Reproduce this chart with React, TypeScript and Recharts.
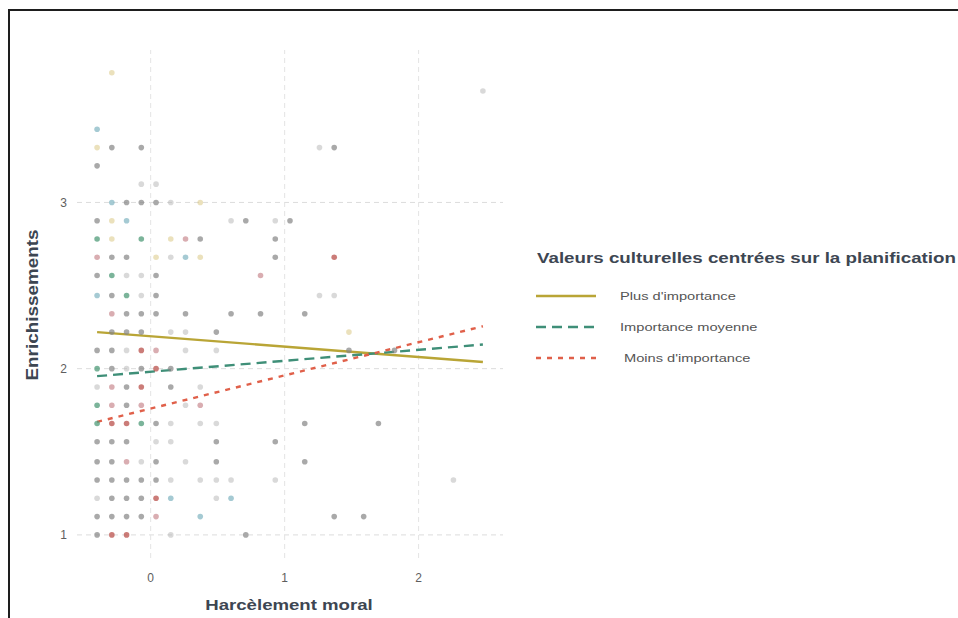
import React from "react";
import {
  ComposedChart,
  Line,
  ReferenceLine,
  Scatter,
  XAxis,
  YAxis,
} from "recharts";

// Nuage de points : Harcèlement moral (x) × Enrichissements (y), teintes
type Pt = { x: number; y: number };

const gris: Pt[] = [
  { x: -0.29, y: 3.33 }, { x: -0.07, y: 3.33 }, { x: 1.37, y: 3.33 },
  { x: -0.4, y: 3.22 },
  { x: -0.18, y: 3 }, { x: -0.07, y: 3 }, { x: 0.04, y: 3 },
  { x: -0.4, y: 2.89 }, { x: 0.71, y: 2.89 }, { x: 1.04, y: 2.89 },
  { x: 0.37, y: 2.78 }, { x: 0.93, y: 2.78 },
  { x: -0.29, y: 2.67 }, { x: -0.18, y: 2.67 }, { x: 0.93, y: 2.67 },
  { x: -0.4, y: 2.56 }, { x: 0.04, y: 2.56 },
  { x: -0.29, y: 2.44 }, { x: 0.04, y: 2.44 },
  { x: -0.18, y: 2.33 }, { x: -0.07, y: 2.33 }, { x: 0.04, y: 2.33 }, { x: 0.26, y: 2.33 },
  { x: 0.6, y: 2.33 }, { x: 0.82, y: 2.33 }, { x: 1.15, y: 2.33 },
  { x: -0.29, y: 2.22 }, { x: -0.18, y: 2.22 }, { x: -0.07, y: 2.22 }, { x: 0.49, y: 2.22 },
  { x: -0.4, y: 2.11 }, { x: -0.29, y: 2.11 }, { x: 1.48, y: 2.11 }, { x: 1.82, y: 2.11 },
  { x: -0.29, y: 2 }, { x: -0.07, y: 2 }, { x: 0.15, y: 2 },
  { x: -0.18, y: 1.89 }, { x: 0.15, y: 1.89 },
  { x: -0.18, y: 1.78 },
  { x: 0.04, y: 1.67 }, { x: 1.15, y: 1.67 }, { x: 1.7, y: 1.67 },
  { x: -0.4, y: 1.56 }, { x: -0.29, y: 1.56 }, { x: -0.18, y: 1.56 }, { x: 0.49, y: 1.56 }, { x: 0.93, y: 1.56 },
  { x: -0.4, y: 1.44 }, { x: -0.29, y: 1.44 }, { x: 0.04, y: 1.44 }, { x: 0.49, y: 1.44 }, { x: 1.15, y: 1.44 },
  { x: -0.4, y: 1.33 }, { x: -0.29, y: 1.33 }, { x: -0.18, y: 1.33 }, { x: -0.07, y: 1.33 }, { x: 0.04, y: 1.33 },
  { x: -0.29, y: 1.22 }, { x: -0.18, y: 1.22 }, { x: -0.07, y: 1.22 },
  { x: -0.4, y: 1.11 }, { x: -0.29, y: 1.11 }, { x: -0.18, y: 1.11 }, { x: -0.07, y: 1.11 },
  { x: 1.37, y: 1.11 }, { x: 1.59, y: 1.11 },
  { x: -0.4, y: 1 }, { x: 0.71, y: 1 },
];

const pale: Pt[] = [
  { x: 2.48, y: 3.67 }, { x: 1.26, y: 3.33 },
  { x: -0.07, y: 3.11 }, { x: 0.04, y: 3.11 }, { x: 0.15, y: 3 },
  { x: 0.6, y: 2.89 }, { x: 0.93, y: 2.89 },
  { x: 0.15, y: 2.67 },
  { x: -0.18, y: 2.56 }, { x: -0.07, y: 2.56 },
  { x: -0.07, y: 2.44 }, { x: 1.26, y: 2.44 }, { x: 1.37, y: 2.44 },
  { x: 0.15, y: 2.22 }, { x: 0.26, y: 2.22 },
  { x: -0.18, y: 2.11 }, { x: 0.26, y: 2.11 }, { x: 0.49, y: 2.11 },
  { x: -0.18, y: 2 },
  { x: -0.4, y: 1.89 }, { x: 0.37, y: 1.89 },
  { x: 0.26, y: 1.78 },
  { x: 0.15, y: 1.67 }, { x: 0.37, y: 1.67 }, { x: 0.49, y: 1.67 },
  { x: 0.04, y: 1.56 }, { x: 0.15, y: 1.56 },
  { x: -0.07, y: 1.44 }, { x: 0.26, y: 1.44 },
  { x: 0.15, y: 1.33 }, { x: 0.37, y: 1.33 }, { x: 0.49, y: 1.33 }, { x: 0.6, y: 1.33 },
  { x: 0.93, y: 1.33 }, { x: 2.26, y: 1.33 },
  { x: -0.4, y: 1.22 }, { x: 0.49, y: 1.22 },
  { x: 0.15, y: 1 },
];

const jaune: Pt[] = [
  { x: -0.29, y: 3.78 }, { x: -0.4, y: 3.33 },
  { x: 0.37, y: 3 }, { x: -0.29, y: 2.89 },
  { x: -0.29, y: 2.78 }, { x: 0.15, y: 2.78 },
  { x: 0.04, y: 2.67 }, { x: 0.37, y: 2.67 },
  { x: 1.48, y: 2.22 },
];

const sarcelle: Pt[] = [
  { x: -0.4, y: 3.44 }, { x: -0.29, y: 3 }, { x: -0.18, y: 2.89 },
  { x: 0.26, y: 2.67 }, { x: -0.4, y: 2.44 },
  { x: 0.15, y: 1.22 }, { x: 0.6, y: 1.22 }, { x: 0.37, y: 1.11 },
];

const vert: Pt[] = [
  { x: -0.4, y: 2.78 }, { x: -0.07, y: 2.78 }, { x: -0.29, y: 2.56 }, { x: -0.18, y: 2.44 },
  { x: -0.4, y: 2 }, { x: -0.4, y: 1.78 }, { x: -0.4, y: 1.67 }, { x: -0.07, y: 1.67 },
];

const rose: Pt[] = [
  { x: 0.26, y: 2.78 }, { x: -0.4, y: 2.67 }, { x: 0.82, y: 2.56 }, { x: -0.29, y: 2.33 },
  { x: 0.04, y: 2.11 }, { x: -0.29, y: 1.89 }, { x: -0.29, y: 1.78 }, { x: -0.07, y: 1.78 },
  { x: 0.37, y: 1.78 }, { x: -0.18, y: 1.44 }, { x: 0.04, y: 1.11 },
];

const rouge: Pt[] = [
  { x: 1.37, y: 2.67 }, { x: -0.07, y: 2.11 }, { x: 0.04, y: 2 }, { x: -0.07, y: 1.89 },
  { x: -0.29, y: 1.67 }, { x: -0.18, y: 1.67 }, { x: 0.04, y: 1.22 },
  { x: -0.29, y: 1 }, { x: -0.18, y: 1 },
];

// Droites de régression par modalité
const plusImportance: Pt[] = [
  { x: -0.4, y: 2.22 },
  { x: 2.48, y: 2.04 },
];
const importanceMoyenne: Pt[] = [
  { x: -0.4, y: 1.955 },
  { x: 2.48, y: 2.145 },
];
const moinsImportance: Pt[] = [
  { x: -0.4, y: 1.68 },
  { x: 2.48, y: 2.255 },
];

const X_TICKS = [0, 1, 2];
const Y_TICKS = [1, 2, 3];

const FONT = "'Liberation Sans', Arial, sans-serif";
const TITLE_COLOR = "#3d4652";

const pointShape = (fill: string, opacity: number) => (props: any) => (
  <circle cx={props.cx} cy={props.cy} r={2.8} fill={fill} fillOpacity={opacity} />
);

const LEGEND = [
  { label: "Plus d'importance", color: "#b9a536", dash: undefined, pad: 0 },
  { label: "Importance moyenne", color: "#3f8f78", dash: "10 6", pad: 0 },
  { label: "Moins d'importance", color: "#e0604a", dash: "5 6", pad: 4 },
];

export default function App() {
  return (
    <div
      style={{
        position: "absolute",
        left: 0,
        top: 0,
        width: 958,
        height: 618,
        background: "#fff",
        overflow: "hidden",
        fontFamily: FONT,
      }}
    >
      <div
        style={{
          position: "absolute",
          left: 8,
          top: 9,
          width: 980,
          height: 640,
          borderTop: "2px solid #1e1e1e",
          borderLeft: "2px solid #1e1e1e",
        }}
      />
      <div style={{ position: "absolute", left: 0, top: 0 }}>
        <ComposedChart
          width={958}
          height={618}
          margin={{ top: 50, right: 455, bottom: 30, left: 37 }}
        >
          <XAxis
            type="number"
            dataKey="x"
            domain={[-0.55, 2.63]}
            ticks={X_TICKS}
            height={30}
            axisLine={false}
            tickLine={false}
            tickSize={0}
            tickMargin={15}
            tick={{ fontSize: 12, fill: "#5e5e5e", fontFamily: FONT }}
            allowDataOverflow
          />
          <YAxis
            type="number"
            dataKey="y"
            domain={[0.861, 3.917]}
            ticks={Y_TICKS}
            width={40}
            axisLine={false}
            tickLine={false}
            tickSize={0}
            tickMargin={10}
            tick={{ fontSize: 12, fill: "#5e5e5e", fontFamily: FONT }}
            allowDataOverflow
          />
          {Y_TICKS.map((t) => (
            <ReferenceLine key={`h${t}`} y={t} stroke="#dcdcdc" strokeDasharray="5 4" />
          ))}
          {X_TICKS.map((t) => (
            <ReferenceLine key={`v${t}`} x={t} stroke="#e4e4e4" strokeDasharray="5 4" />
          ))}
          <Scatter data={pale} shape={pointShape("#b4b4b4", 0.5)} isAnimationActive={false} />
          <Scatter data={jaune} shape={pointShape("#d8c47a", 0.5)} isAnimationActive={false} />
          <Scatter data={sarcelle} shape={pointShape("#7fb3c0", 0.7)} isAnimationActive={false} />
          <Scatter data={gris} shape={pointShape("#858585", 0.7)} isAnimationActive={false} />
          <Scatter data={vert} shape={pointShape("#4f9b78", 0.75)} isAnimationActive={false} />
          <Scatter data={rose} shape={pointShape("#c98a90", 0.7)} isAnimationActive={false} />
          <Scatter data={rouge} shape={pointShape("#b9504b", 0.75)} isAnimationActive={false} />
          <Line
            data={plusImportance}
            dataKey="y"
            type="linear"
            stroke="#b9a536"
            strokeWidth={2.4}
            dot={false}
            activeDot={false}
            isAnimationActive={false}
          />
          <Line
            data={importanceMoyenne}
            dataKey="y"
            type="linear"
            stroke="#3f8f78"
            strokeWidth={2.4}
            strokeDasharray="10 6"
            dot={false}
            activeDot={false}
            isAnimationActive={false}
          />
          <Line
            data={moinsImportance}
            dataKey="y"
            type="linear"
            stroke="#e0604a"
            strokeWidth={2.4}
            strokeDasharray="5 6"
            dot={false}
            activeDot={false}
            isAnimationActive={false}
          />
        </ComposedChart>
      </div>

      <div
        style={{
          position: "absolute",
          left: 33,
          top: 305,
          transform: "translate(-50%, -50%) rotate(-90deg) scaleX(1.18)",
          fontSize: 16,
          fontWeight: 700,
          color: TITLE_COLOR,
          whiteSpace: "nowrap",
        }}
      >
        Enrichissements
      </div>
      <div
        style={{
          position: "absolute",
          left: 289,
          top: 605,
          transform: "translate(-50%, -50%) scaleX(1.2)",
          fontSize: 15.5,
          fontWeight: 700,
          color: TITLE_COLOR,
          whiteSpace: "nowrap",
        }}
      >
        Harcèlement moral
      </div>

      <div
        style={{
          position: "absolute",
          left: 537,
          top: 257,
          transform: "translateY(-50%) scaleX(1.25)",
          transformOrigin: "left center",
          fontSize: 15,
          fontWeight: 700,
          color: TITLE_COLOR,
          whiteSpace: "nowrap",
        }}
      >
        Valeurs culturelles centrées sur la planification
      </div>
      {LEGEND.map((item, i) => (
        <div
          key={item.label}
          style={{
            position: "absolute",
            left: 536,
            top: 296 + i * 31,
            transform: "translateY(-50%)",
            display: "flex",
            alignItems: "center",
            whiteSpace: "nowrap",
          }}
        >
          <svg width={60} height={6}>
            <line
              x1={0}
              y1={3}
              x2={60}
              y2={3}
              stroke={item.color}
              strokeWidth={2.6}
              strokeDasharray={item.dash}
            />
          </svg>
          <span
            style={{
              marginLeft: 24 + item.pad,
              fontSize: 11,
              color: "#555",
              display: "inline-block",
              transform: "scaleX(1.33)",
              transformOrigin: "left center",
            }}
          >
            {item.label}
          </span>
        </div>
      ))}
    </div>
  );
}
